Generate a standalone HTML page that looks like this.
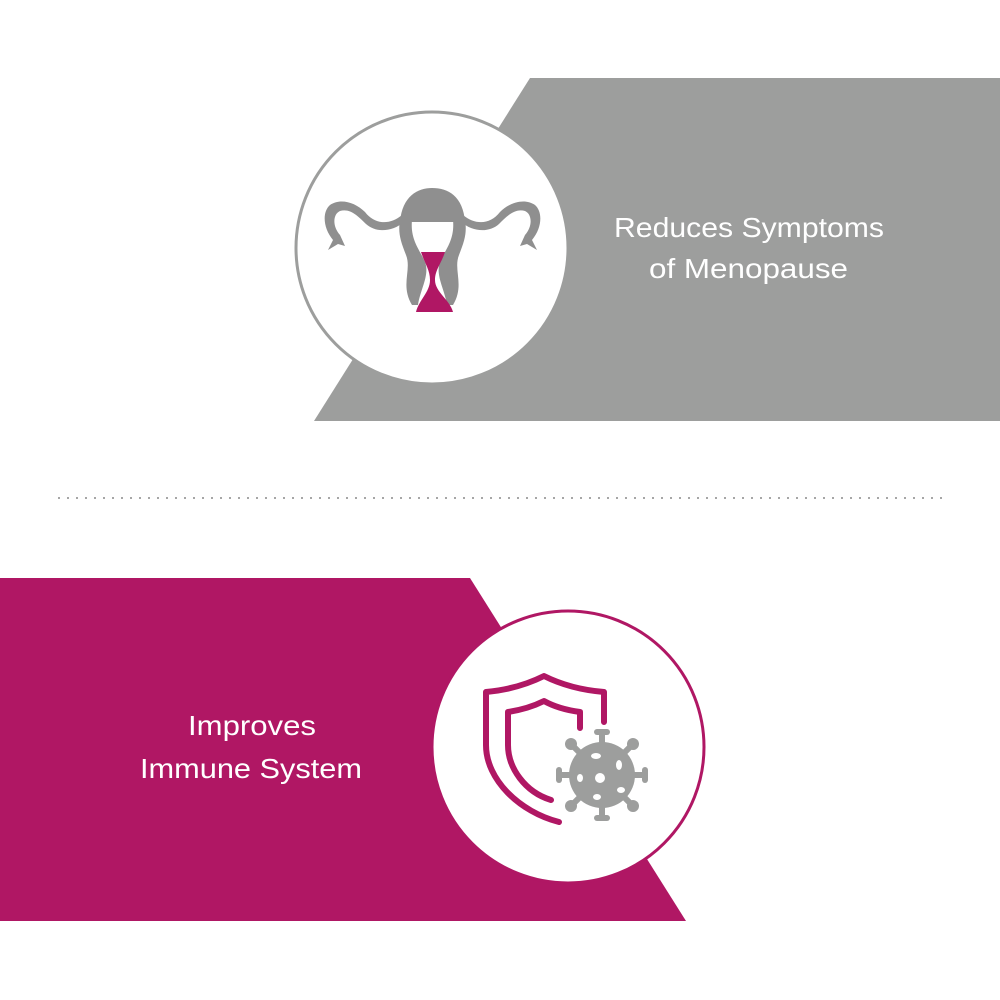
<!DOCTYPE html>
<html><head><meta charset="utf-8"><style>html,body{margin:0;padding:0;background:#fff;}svg{display:block}</style></head>
<body>
<svg width="1000" height="1000" viewBox="0 0 1000 1000" xmlns="http://www.w3.org/2000/svg">
<rect width="1000" height="1000" fill="#fff"/>
<polygon points="530,78 1000,78 1000,421 314,421" fill="#9d9e9d"/>
<circle cx="432" cy="248" r="136" fill="#fff" stroke="#9d9e9d" stroke-width="3"/>
<g fill="#8f8f8f">
<path d="M400,222 C402,196 418,188 432,188 C448,188 463,196 465,222 Z"/>
<path d="M402,215 C390,225 375,225 365,212 C355,202 340,198 330,205 C322,212 323,228 333,240 L328,250 L338,244 L345,246 L340,235 C332,226 333,214 340,211 C350,208 358,216 366,224 C376,233 392,232 404,222 Z"/>
<path d="M463,215 C475,225 490,225 500,212 C510,202 525,198 535,205 C543,212 542,228 532,240 L537,250 L527,244 L520,246 L525,235 C533,226 532,214 525,211 C515,208 507,216 499,224 C489,233 473,232 461,222 Z"/>
<path d="M400,220 L412,220 C410,240 420,250 425,262 C430,275 420,290 418,305 L412,305 C400,285 412,270 406,255 C400,240 398,232 400,220 Z"/>
<path d="M465,220 L453,220 C455,240 445,250 440,262 C435,275 445,290 447,305 L453,305 C465,285 453,270 459,255 C465,240 467,232 465,220 Z"/>
</g>
<path d="M421,252 L445,252 C441,264 435,270 435,280 C435,292 450,300 453,312 L416,312 C419,300 430,292 430,280 C430,270 425,264 421,252 Z" fill="#b01764"/>
<text x="614" y="237" font-family="Liberation Sans, sans-serif" font-size="28" fill="#fff" textLength="270" lengthAdjust="spacingAndGlyphs">Reduces Symptoms</text>
<text x="649" y="278" font-family="Liberation Sans, sans-serif" font-size="28" fill="#fff" textLength="199" lengthAdjust="spacingAndGlyphs">of Menopause</text>
<line x1="58" y1="498" x2="942" y2="498" stroke="#888" stroke-width="1.5" stroke-dasharray="2,7"/>
<polygon points="0,578 470,578 686,921 0,921" fill="#b01764"/>
<circle cx="568" cy="747" r="136" fill="#fff" stroke="#b01764" stroke-width="3"/>
<g fill="none" stroke="#b01764" stroke-width="6" stroke-linecap="round" stroke-linejoin="round">
<path d="M604,722 L604,692 C580,690 560,684 544,676 C528,684 508,690 486,692 L486,745 C486,780 520,812 559,822"/>
<path d="M580,728 L580,712 C565,710 553,706 544,701 C534,706 521,710 508,712 L508,745 C508,768 525,792 551,800"/>
</g>
<g fill="#9d9e9d">
<circle cx="602" cy="775" r="33"/>
<g stroke="#9d9e9d" stroke-width="6">
<line x1="602" y1="775" x2="602" y2="732"/><line x1="602" y1="775" x2="602" y2="818"/>
<line x1="602" y1="775" x2="559" y2="775"/><line x1="602" y1="775" x2="645" y2="775"/>
<line x1="602" y1="775" x2="572" y2="745"/><line x1="602" y1="775" x2="632" y2="745"/>
<line x1="602" y1="775" x2="572" y2="805"/><line x1="602" y1="775" x2="632" y2="805"/>
</g>
<rect x="594" y="729" width="16" height="6" rx="3"/><rect x="594" y="815" width="16" height="6" rx="3"/>
<rect x="556" y="767" width="6" height="16" rx="3"/><rect x="642" y="767" width="6" height="16" rx="3"/>
<circle cx="571" cy="744" r="6"/><circle cx="633" cy="744" r="6"/><circle cx="571" cy="806" r="6"/><circle cx="633" cy="806" r="6"/>
</g>
<g fill="#fff">
<circle cx="600" cy="778" r="5"/><ellipse cx="596" cy="756" rx="5" ry="3"/><ellipse cx="619" cy="765" rx="3" ry="5"/>
<ellipse cx="580" cy="778" rx="3" ry="4"/><ellipse cx="621" cy="790" rx="4" ry="3"/><ellipse cx="597" cy="797" rx="4" ry="3"/>
</g>
<text x="188" y="735" font-family="Liberation Sans, sans-serif" font-size="28" fill="#fff" textLength="128" lengthAdjust="spacingAndGlyphs">Improves</text>
<text x="140" y="778" font-family="Liberation Sans, sans-serif" font-size="28" fill="#fff" textLength="222" lengthAdjust="spacingAndGlyphs">Immune System</text>
</svg>
</body></html>
